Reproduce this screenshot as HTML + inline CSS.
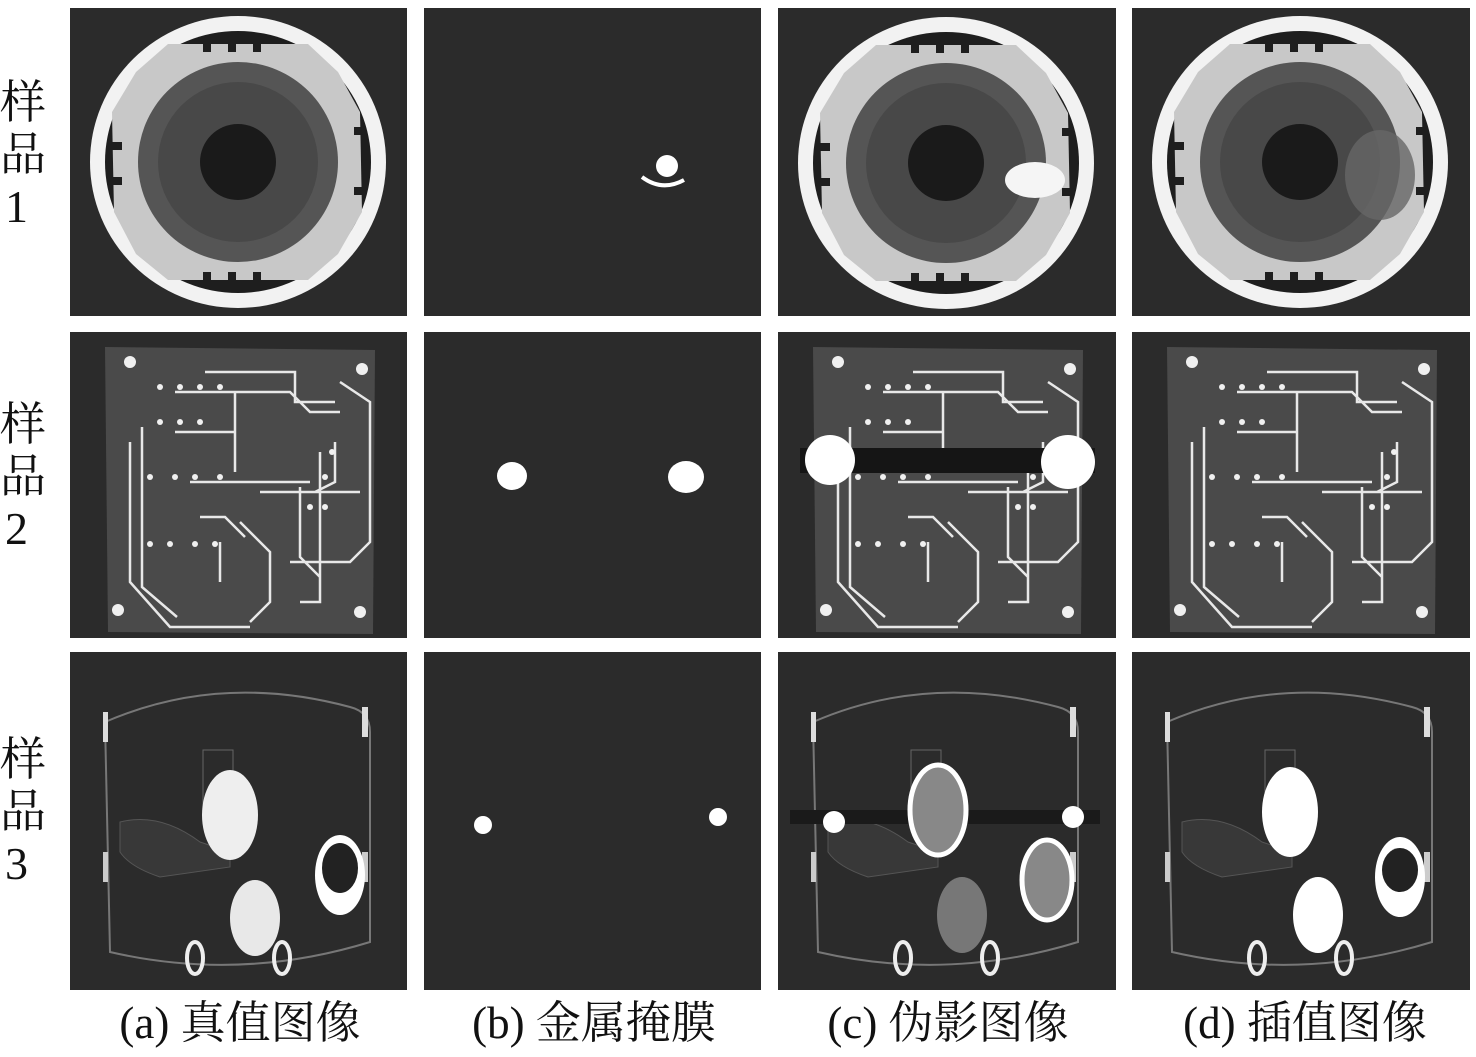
<!DOCTYPE html>
<html><head><meta charset="utf-8"><style>
body{margin:0;background:#fff;width:1476px;height:1057px;overflow:hidden}
svg{position:absolute;left:0;top:0}
</style></head><body>
<svg width="1476" height="1057" viewBox="0 0 1476 1057" font-family="'Liberation Serif','Noto Serif CJK SC',serif">
<defs>
<g id="ring">
  <ellipse cx="0" cy="0" rx="148" ry="146" fill="#f2f2f2"/>
  <ellipse cx="0" cy="0" rx="133" ry="131" fill="#1e1e1e"/>
  <polygon points="-70,-118 70,-118 100,-90 122,-50 124,50 100,92 70,118 -70,118 -102,92 -124,50 -126,-50 -102,-90" fill="#c8c8c8"/>
  <g fill="#1e1e1e">
    <rect x="-35" y="-122" width="8" height="12"/><rect x="-10" y="-122" width="8" height="12"/><rect x="15" y="-122" width="8" height="12"/>
    <rect x="-35" y="110" width="8" height="12"/><rect x="-10" y="110" width="8" height="12"/><rect x="15" y="110" width="8" height="12"/>
    <rect x="-128" y="-20" width="12" height="8"/><rect x="-128" y="15" width="12" height="8"/>
    <rect x="116" y="-35" width="12" height="8"/><rect x="116" y="25" width="12" height="8"/>
  </g>
  <circle r="100" fill="#555"/>
  <circle r="80" fill="#484848"/>
  <circle r="38" fill="#1a1a1a"/>
</g>
<g id="pcb">
  <polygon points="35,15 305,18 303,302 38,300" fill="#4a4a4a"/>
  <g fill="none" stroke="#e8e8e8" stroke-width="2.5">
    <path d="M135,40 h90 v30 h40 M105,60 h60 v80 M60,110 v140 l40,45 h80 M72,95 v160 l35,30 M105,100 h60 M120,150 h120 M190,160 h60 v110 h-20 M230,155 v70 l20,20 M270,50 l30,20 v140 l-20,20 h-60 M250,120 v40 h40 M170,190 l30,30 v50 M130,185 h25 l20,20 M150,210 v40 M200,230 v40 l-20,20 M265,110 v40 l-20,10 M140,60 h80 l20,20 h30"/>
  </g>
  <g fill="#f0f0f0">
    <circle cx="60" cy="30" r="6"/><circle cx="292" cy="37" r="6"/><circle cx="48" cy="278" r="6"/><circle cx="290" cy="280" r="6"/>
    <circle cx="90" cy="55" r="3"/><circle cx="110" cy="55" r="3"/><circle cx="130" cy="55" r="3"/><circle cx="150" cy="55" r="3"/>
    <circle cx="90" cy="90" r="3"/><circle cx="110" cy="90" r="3"/><circle cx="130" cy="90" r="3"/>
    <circle cx="80" cy="145" r="3"/><circle cx="105" cy="145" r="3"/><circle cx="125" cy="145" r="3"/><circle cx="150" cy="145" r="3"/>
    <circle cx="80" cy="212" r="3"/><circle cx="100" cy="212" r="3"/><circle cx="125" cy="212" r="3"/><circle cx="145" cy="212" r="3"/>
    <circle cx="240" cy="175" r="3"/><circle cx="255" cy="175" r="3"/><circle cx="262" cy="120" r="3"/><circle cx="255" cy="145" r="3"/>
  </g>
</g>
<g id="body">
  <path d="M35,70 Q150,20 280,55 Q300,60 300,80 L300,290 Q170,330 40,300 Z" fill="none" stroke="#777" stroke-width="2"/>
  <rect x="133" y="98" width="30" height="55" fill="none" stroke="#666"/>
  <path d="M50,170 q40,-10 80,20 l30,10 v15 l-70,10 q-30,-10 -40,-25z" fill="#383838" stroke="#555"/>
  <rect x="33" y="60" width="5" height="30" fill="#ddd"/><rect x="292" y="55" width="6" height="30" fill="#ddd"/>
  <rect x="33" y="200" width="5" height="30" fill="#ccc"/><rect x="292" y="200" width="6" height="30" fill="#ccc"/>
</g>
</defs>
<rect width="1476" height="1057" fill="#fff"/>
<g fill="#2b2b2b">
<rect x="70" y="8" width="337" height="308"/><rect x="424" y="8" width="337" height="308"/><rect x="778" y="8" width="338" height="308"/><rect x="1132" y="8" width="338" height="308"/>
<rect x="70" y="332" width="337" height="306"/><rect x="424" y="332" width="337" height="306"/><rect x="778" y="332" width="338" height="306"/><rect x="1132" y="332" width="338" height="306"/>
<rect x="70" y="652" width="337" height="338"/><rect x="424" y="652" width="337" height="338"/><rect x="778" y="652" width="338" height="338"/><rect x="1132" y="652" width="338" height="338"/>
</g>
<use href="#ring" x="238" y="162"/>
<circle cx="667" cy="166" r="11" fill="#fff"/>
<path d="M642,177 q20,15 42,3" stroke="#fff" stroke-width="4" fill="none"/>
<use href="#ring" x="946" y="163"/>
<ellipse cx="1035" cy="180" rx="30" ry="18" fill="#f5f5f5"/>
<use href="#ring" x="1300" y="162"/>
<ellipse cx="1380" cy="175" rx="35" ry="45" fill="#666" opacity="0.8"/>
<use href="#pcb" x="70" y="332"/>
<ellipse cx="512" cy="476" rx="15" ry="14" fill="#fff"/>
<ellipse cx="686" cy="477" rx="18" ry="16" fill="#fff"/>
<use href="#pcb" x="778" y="332"/>
<rect x="800" y="448" width="295" height="25" fill="#151515"/>
<circle cx="830" cy="460" r="25" fill="#fff"/><circle cx="1068" cy="462" r="27" fill="#fff"/>
<use href="#pcb" x="1132" y="332"/>
<use href="#body" x="70" y="652"/>
<ellipse cx="230" cy="815" rx="28" ry="45" fill="#eee"/>
<ellipse cx="255" cy="918" rx="25" ry="38" fill="#e8e8e8"/>
<ellipse cx="340" cy="875" rx="25" ry="40" fill="#fff"/><ellipse cx="340" cy="868" rx="18" ry="25" fill="#222"/>
<ellipse cx="195" cy="958" rx="8" ry="16" fill="none" stroke="#eee" stroke-width="4"/>
<ellipse cx="282" cy="958" rx="8" ry="16" fill="none" stroke="#eee" stroke-width="4"/>
<circle cx="483" cy="825" r="9" fill="#fff"/><circle cx="718" cy="817" r="9" fill="#fff"/>
<use href="#body" x="778" y="652"/>
<rect x="790" y="810" width="310" height="14" fill="#1a1a1a"/>
<ellipse cx="938" cy="810" rx="28" ry="45" fill="#888" stroke="#fff" stroke-width="5"/>
<ellipse cx="962" cy="915" rx="25" ry="38" fill="#777"/>
<ellipse cx="1047" cy="880" rx="25" ry="40" fill="#888" stroke="#fff" stroke-width="5"/>
<circle cx="834" cy="822" r="11" fill="#fff"/><circle cx="1073" cy="817" r="11" fill="#fff"/>
<ellipse cx="903" cy="958" rx="8" ry="16" fill="none" stroke="#eee" stroke-width="4"/>
<ellipse cx="990" cy="958" rx="8" ry="16" fill="none" stroke="#eee" stroke-width="4"/>
<use href="#body" x="1132" y="652"/>
<ellipse cx="1290" cy="812" rx="28" ry="45" fill="#fff"/>
<ellipse cx="1318" cy="915" rx="25" ry="38" fill="#fff"/>
<ellipse cx="1400" cy="877" rx="25" ry="40" fill="#fff"/><ellipse cx="1400" cy="870" rx="18" ry="22" fill="#222"/>
<ellipse cx="1257" cy="958" rx="8" ry="16" fill="none" stroke="#eee" stroke-width="4"/>
<ellipse cx="1344" cy="958" rx="8" ry="16" fill="none" stroke="#eee" stroke-width="4"/>
<g font-size="46" fill="#111">
<text x="0" y="118">样</text><text x="0" y="170">品</text><text x="5" y="222">1</text>
<text x="0" y="440">样</text><text x="0" y="492">品</text><text x="5" y="544">2</text>
<text x="0" y="775">样</text><text x="0" y="827">品</text><text x="5" y="879">3</text>
</g>
<g font-size="45" fill="#111" text-anchor="middle">
<text x="240" y="1038">(a) 真值图像</text>
<text x="594" y="1038">(b) 金属掩膜</text>
<text x="948" y="1038">(c) 伪影图像</text>
<text x="1305" y="1038">(d) 插值图像</text>
</g>
</svg>
</body></html>
